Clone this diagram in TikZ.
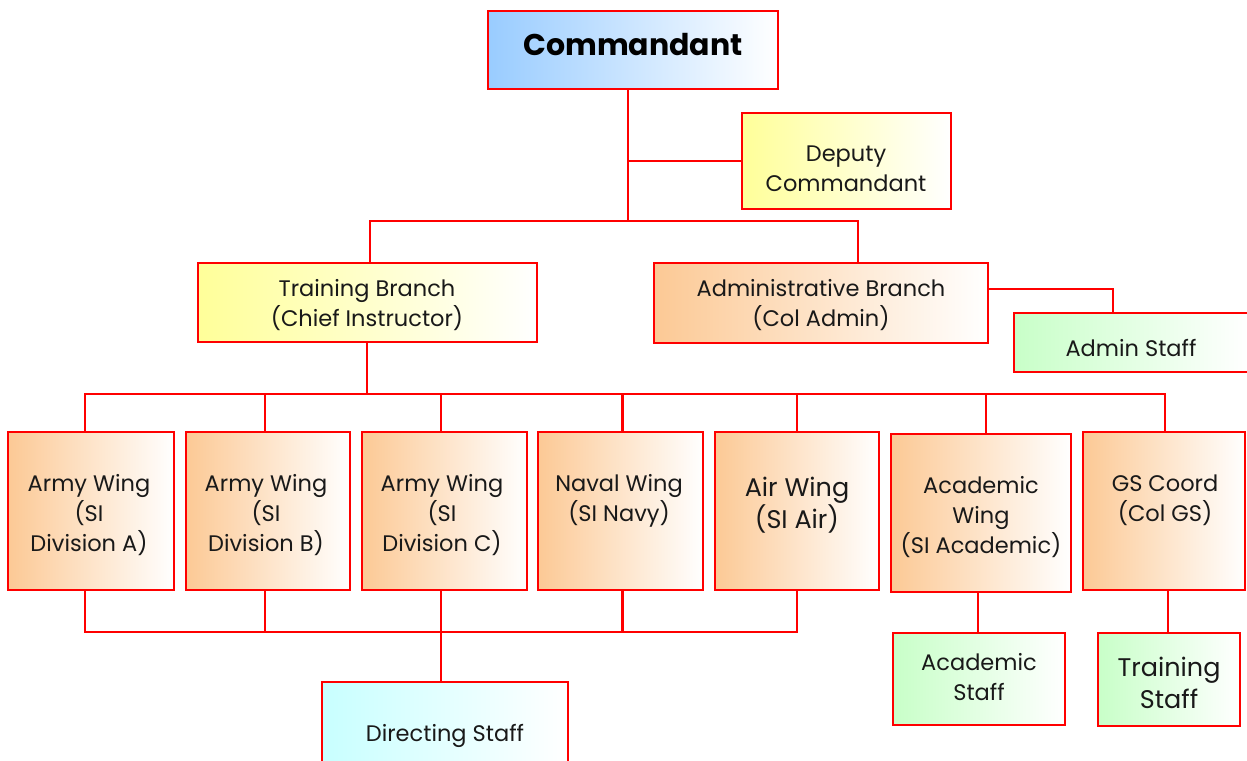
\documentclass[tikz,border=0pt]{standalone}
\usepackage{fontspec}
\usetikzlibrary{calc}
\setmainfont{Poppins}
\definecolor{cblue}{HTML}{99CCFF}
\definecolor{cyel}{HTML}{FFFF99}
\definecolor{corg}{HTML}{FCC995}
\definecolor{cgrn}{HTML}{C8FFC8}
\definecolor{ccyn}{HTML}{C8FFFF}
\definecolor{cred}{HTML}{FF0000}
\tikzset{
  box/.style={draw=cred, line width=2.8pt, rectangle, inner sep=0pt, right color=white},
  bluebox/.style={box, left color=cblue},
  yelbox/.style={box, left color=cyel},
  orgbox/.style={box, left color=corg},
  grnbox/.style={box, left color=cgrn},
  cynbox/.style={box, left color=ccyn},
  txt/.style={align=center, font=\fontsize{22.5}{30}\selectfont, text=black!90, inner sep=0pt},
  bigtxt/.style={align=center, font=\fontsize{25.5}{32}\selectfont, text=black!90, inner sep=0pt},
  conn/.style={draw=cred, line width=2.4pt}
}
\begin{document}
\begin{tikzpicture}[x=1pt, y=-1pt]
\clip (0,0) rectangle (1247,760);
\fill[white] (0,0) rectangle (1247,760);
% boxes
\node[bluebox, minimum width=290pt, minimum height=78pt] (cmd) at (633,50) {};
\node[yelbox, minimum width=209pt, minimum height=96pt] (dep) at (846.5,161) {};
\node[yelbox, minimum width=339pt, minimum height=79pt] (trb) at (367.5,302.5) {};
\node[orgbox, minimum width=334pt, minimum height=80pt] (adb) at (821,303) {};
\node[grnbox, minimum width=234pt, minimum height=59pt] (ast) at (1131,342.5) {};
\node[orgbox, minimum width=166pt, minimum height=158pt] (awa) at (91,511) {};
\node[orgbox, minimum width=164pt, minimum height=158pt] (awb) at (268,511) {};
\node[orgbox, minimum width=165pt, minimum height=158pt] (awc) at (444.5,511) {};
\node[orgbox, minimum width=165pt, minimum height=158pt] (nw) at (620.5,511) {};
\node[orgbox, minimum width=164pt, minimum height=158pt] (aiw) at (797,511) {};
\node[orgbox, minimum width=180pt, minimum height=158pt] (acw) at (981,513) {};
\node[orgbox, minimum width=162pt, minimum height=158pt] (gs) at (1164,511) {};
\node[grnbox, minimum width=172pt, minimum height=92pt] (acs) at (979,679) {};
\node[grnbox, minimum width=142pt, minimum height=93pt] (trs) at (1169,679.5) {};
\node[cynbox, minimum width=246pt, minimum height=108pt] (ds) at (445,736) {};
% texts
\node[font=\fontsize{30}{36}\selectfont\bfseries, inner sep=0pt] (tcmd) at (633,45) {Commandant};
\node[txt] (tdep) at (846,169) {Deputy\\Commandant};
\node[txt] (ttrb) at (367,305.5) {Training Branch\\(Chief Instructor)};
\node[txt] (tadb) at (821,305.5) {Administrative Branch\\(Col Admin)};
\node[txt] (tast) at (1131,348) {Admin Staff};
\node[txt] (tawa) at (89,515.5) {Army Wing\\(SI\\Division A)};
\node[txt] (tawb) at (266,515.5) {Army Wing\\(SI\\Division B)};
\node[txt] (tawc) at (442,515.5) {Army Wing\\(SI\\Division C)};
\node[txt] (tnw) at (619,500.5) {Naval Wing\\(SI Navy)};
\node[bigtxt] (taiw) at (797,505) {Air Wing\\(SI Air)};
\node[txt] (tacw) at (981,517) {Academic\\Wing\\(SI Academic)};
\node[txt] (tgs) at (1165,500.5) {GS Coord\\(Col GS)};
\node[txt] (tacs) at (979,677.5) {Academic\\Staff};
\node[bigtxt] (ttrs) at (1169,683) {Training\\Staff};
\node[txt] (tds) at (445,736) {Directing Staff};
% junctions
\coordinate (t1) at (628,221);
\coordinate (ta) at (858,221);
\coordinate (ta0) at (370,221);
\coordinate (ae) at (1113,289);
\coordinate (bus) at (367,394);
\coordinate (low) at (441,632);
\coordinate (pa) at ($(awa.north)+(-6,0)$);
\coordinate (pb) at ($(awb.north)+(-3,0)$);
\coordinate (pc) at ($(awc.north)+(-3.5,0)$);
\coordinate (pn) at ($(nw.north)+(2,0)$);
\coordinate (pi) at ($(aiw.north)+(0,0)$);
\coordinate (pk) at ($(acw.north)+(5,0)$);
\coordinate (pg) at ($(gs.north)+(1,0)$);
% connectors
\draw[conn] (cmd.south -| t1) -- (t1);
\draw[conn] (t1 |- dep.west) -- (dep.west);
\draw[conn] (ta0 |- trb.north) -- (ta0) -- (ta) -- (ta |- adb.north);
\draw[conn] (ae -| adb.east) -- (ae) -- (ae |- ast.north);
\draw[conn] (bus |- trb.south) -- (bus);
\draw[conn] (pa) -- (pa |- bus) -- (pg |- bus) -- (pg);
\foreach \p in {pb,pc,pn,pi,pk} {\draw[conn] (\p) -- (\p |- bus);}
\draw[conn] (pa |- awa.south) -- (pa |- low) -- (pi |- low) -- (pi |- aiw.south);
\foreach \p in {pb,pn} {\draw[conn] (\p |- awa.south) -- (\p |- low);}
\draw[conn] (pc |- awc.south) -- (pc |- ds.north);
\draw[conn] (acw.south -| 978,0) -- (acs.north -| 978,0);
\draw[conn] (gs.south -| 1168,0) -- (trs.north -| 1168,0);
\end{tikzpicture}
\end{document}
